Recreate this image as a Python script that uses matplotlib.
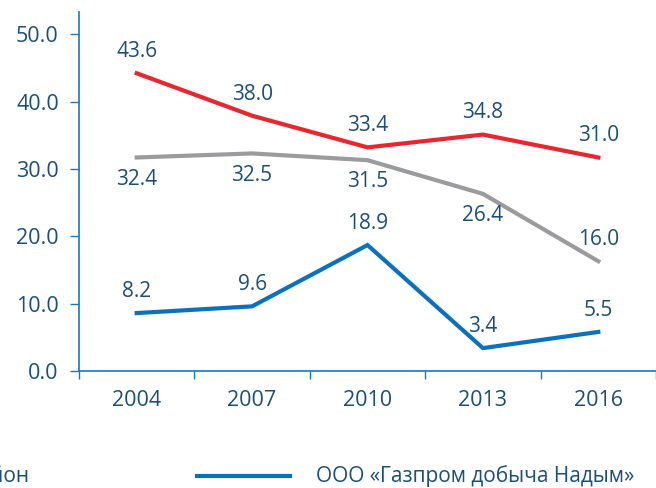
import matplotlib.pyplot as plt
from matplotlib.lines import Line2D

years = ['2004', '2007', '2010', '2013', '2016']
# line values as they sit on the chart
red_vals = [44.2, 37.9, 33.2, 35.1, 31.7]
gray_vals = [31.7, 32.3, 31.3, 26.3, 16.3]
blue_vals = [8.6, 9.6, 18.7, 3.4, 5.8]
# printed data labels
red_labels = ['43.6', '38.0', '33.4', '34.8', '31.0']
gray_labels = ['32.4', '32.5', '31.5', '26.4', '16.0']
blue_labels = ['8.2', '9.6', '18.9', '3.4', '5.5']

# label placement: 1 = above, -1 = below
red_pos = [1, 1, 1, 1, 1]
gray_pos = [-1, -1, -1, -1, 1]
blue_pos = [1, 1, 1, 1, 1]

legend_blue = 'ООО «Газпром добыча Надым»'
legend_cut = 'Надымский район'

txt_col = '#1a4f7c'
ax_col = '#1878c4'
red = '#e8262d'
gray = '#9b9b9d'
blue = '#0a72bd'

plt.rcParams['font.family'] = ['Open Sans', 'DejaVu Sans']

fig = plt.figure(figsize=(6.56, 4.88), dpi=100)
ax = fig.add_axes([79 / 656, 117 / 488, 577 / 656, 359 / 488])

x = list(range(len(years)))
series = [(red_vals, red_labels, red, red_pos),
          (gray_vals, gray_labels, gray, gray_pos),
          (blue_vals, blue_labels, blue, blue_pos)]
for vals, labs, col, pos in series:
    ax.plot(x, vals, color=col, lw=3, solid_joinstyle='miter')
    for xi, v, lab, p in zip(x, vals, labs, pos):
        ax.annotate(lab, (xi, v), xytext=(0, 8 * p), textcoords='offset points',
                    ha='center', va='bottom' if p > 0 else 'top', fontsize=15, color=txt_col)

ax.set_xlim(-0.5, 4.5)
ax.set_ylim(0, 53.3)
ax.set_yticks([0, 10, 20, 30, 40, 50])
ax.set_yticklabels([f'{t:.1f}' for t in [0, 10, 20, 30, 40, 50]])
ax.set_xticks(x)
ax.set_xticklabels(years)
ax.set_xticks([i - 0.5 for i in range(len(years) + 1)], minor=True)

ax.tick_params(axis='y', direction='out', length=6.5, width=1, color=ax_col,
               labelsize=15.5, labelcolor=txt_col, pad=8)
ax.tick_params(axis='x', which='major', length=0, labelsize=15.5, labelcolor=txt_col, pad=14)
ax.tick_params(axis='x', which='minor', direction='out', length=6, width=1, color=ax_col)

for s in ['top', 'right']:
    ax.spines[s].set_visible(False)
for s in ['left', 'bottom']:
    ax.spines[s].set_color(ax_col)
    ax.spines[s].set_linewidth(1.2)

# legend (cropped at the left edge as in the source)
fig.add_artist(Line2D([197 / 656, 290 / 656], [12 / 488, 12 / 488], color=blue, lw=3,
                      transform=fig.transFigure))
fig.text(316 / 656, 12 / 488, legend_blue, fontsize=15, color=txt_col, va='center', ha='left')
fig.text(29 / 656, 12 / 488, legend_cut, fontsize=15, color=txt_col, va='center', ha='right')

fig.savefig('out.png', dpi=100)
